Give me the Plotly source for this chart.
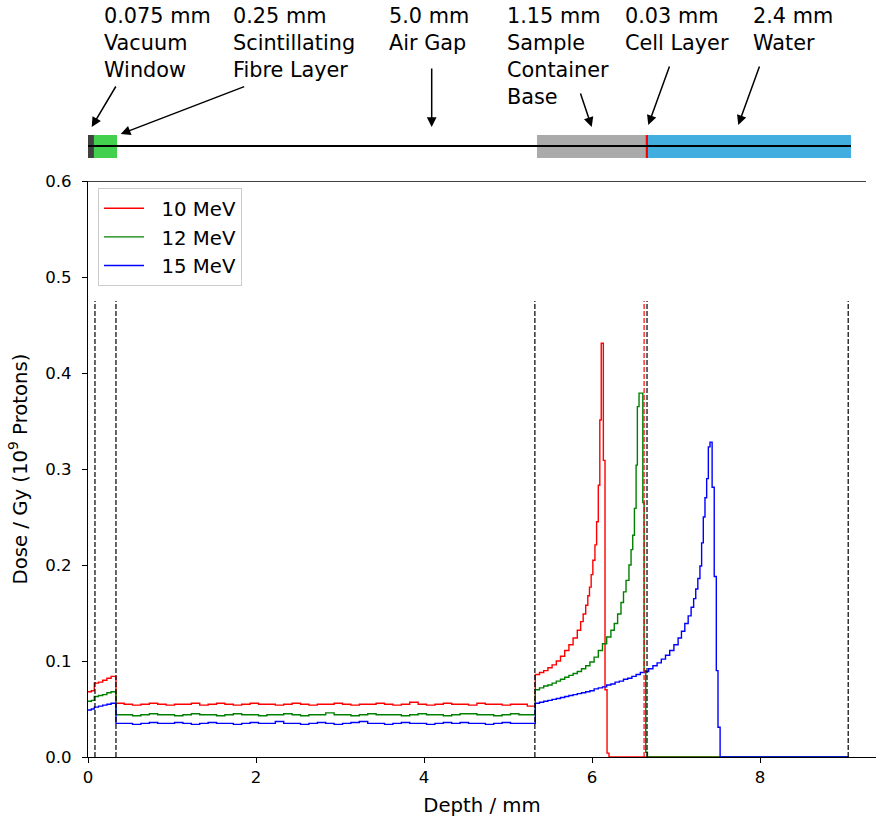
import plotly.graph_objects as go

# ---------------- data ----------------
DEPTH_ENTRY = [0.0, 0.04, 0.075, 0.125, 0.175, 0.225, 0.275]
RED_ENTRY = [0.068, 0.069, 0.077, 0.078, 0.080, 0.082, 0.084]
GREEN_ENTRY = [0.058, 0.059, 0.063, 0.064, 0.065, 0.067, 0.068]
BLUE_ENTRY = [0.049, 0.050, 0.052, 0.053, 0.054, 0.055, 0.056]

AIR_DEPTH = [0.333, 0.43, 0.53, 0.63, 0.73, 0.83, 0.93, 1.03, 1.13, 1.23,
             1.33, 1.43, 1.53, 1.63, 1.73, 1.83, 1.93, 2.03, 2.13, 2.23,
             2.33, 2.43, 2.53, 2.63, 2.73, 2.83, 2.93, 3.03, 3.13, 3.23,
             3.33, 3.43, 3.53, 3.63, 3.73, 3.83, 3.93, 4.03, 4.13, 4.23,
             4.33, 4.43, 4.53, 4.63, 4.73, 4.83, 4.93, 5.03, 5.13, 5.23]
RED_AIR = [0.056, 0.055, 0.054, 0.055, 0.056, 0.055, 0.054, 0.055, 0.055, 0.056,
           0.054, 0.055, 0.056, 0.055, 0.054, 0.055, 0.056, 0.055, 0.055, 0.054,
           0.055, 0.056, 0.055, 0.054, 0.055, 0.055, 0.056, 0.055, 0.054, 0.055,
           0.055, 0.056, 0.055, 0.054, 0.055, 0.057, 0.055, 0.054, 0.055, 0.056,
           0.055, 0.055, 0.054, 0.056, 0.055, 0.055, 0.054, 0.055, 0.055, 0.053]
GREEN_AIR = [0.044, 0.044, 0.043, 0.044, 0.045, 0.044, 0.044, 0.043, 0.044, 0.045,
             0.044, 0.044, 0.043, 0.044, 0.045, 0.044, 0.044, 0.043, 0.044, 0.044,
             0.045, 0.044, 0.043, 0.044, 0.044, 0.046, 0.044, 0.044, 0.043, 0.044,
             0.045, 0.044, 0.044, 0.044, 0.043, 0.044, 0.045, 0.044, 0.044, 0.043,
             0.044, 0.045, 0.045, 0.044, 0.044, 0.043, 0.044, 0.045, 0.044, 0.044]
BLUE_AIR = [0.035, 0.035, 0.034, 0.035, 0.036, 0.035, 0.035, 0.036, 0.035, 0.034,
            0.035, 0.036, 0.035, 0.035, 0.034, 0.035, 0.036, 0.035, 0.035, 0.037,
            0.035, 0.035, 0.034, 0.035, 0.036, 0.035, 0.034, 0.035, 0.036, 0.037,
            0.035, 0.035, 0.034, 0.035, 0.036, 0.035, 0.035, 0.034, 0.035, 0.036,
            0.035, 0.036, 0.035, 0.035, 0.034, 0.035, 0.036, 0.035, 0.035, 0.035]

RED_TAIL_DEPTH = [5.325, 5.375, 5.425, 5.475, 5.525, 5.575, 5.625, 5.675, 5.725, 5.775,
                  5.825, 5.865, 5.895, 5.925, 5.950, 5.970, 5.990, 6.010, 6.035, 6.055,
                  6.075, 6.093, 6.110, 6.135, 6.155, 6.179, 6.202, 9.05]
RED_TAIL = [0.086, 0.088, 0.090, 0.093, 0.096, 0.100, 0.105, 0.111, 0.117, 0.124,
            0.132, 0.141, 0.149, 0.158, 0.168, 0.177, 0.190, 0.205, 0.221, 0.245,
            0.283, 0.351, 0.431, 0.309, 0.070, 0.004, 0.0, 0.0]

GREEN_TAIL_DEPTH = [5.325, 5.375, 5.425, 5.475, 5.525, 5.575, 5.625, 5.675, 5.725, 5.775,
                    5.825, 5.875, 5.925, 5.975, 6.025, 6.075, 6.125, 6.175, 6.225, 6.265,
                    6.305, 6.345, 6.375, 6.405, 6.44, 6.465, 6.485, 6.505, 6.525, 6.54,
                    6.56, 6.605, 6.62, 6.64, 6.66, 9.05]
GREEN_TAIL = [0.070, 0.072, 0.074, 0.075, 0.077, 0.079, 0.081, 0.083, 0.085, 0.087,
              0.089, 0.092, 0.095, 0.099, 0.104, 0.111, 0.118, 0.125, 0.132, 0.139,
              0.149, 0.161, 0.172, 0.184, 0.200, 0.216, 0.231, 0.259, 0.304, 0.365,
              0.379, 0.265, 0.090, 0.005, 0.0, 0.0]

BLUE_TAIL_DEPTH = [5.325, 5.375, 5.425, 5.475, 5.525, 5.575, 5.625, 5.675, 5.725, 5.775,
                   5.825, 5.875, 5.925, 5.975, 6.025, 6.075, 6.125, 6.175, 6.225, 6.275,
                   6.325, 6.375, 6.425, 6.475, 6.525, 6.575, 6.625, 6.675, 6.725, 6.775,
                   6.825, 6.875, 6.925, 6.975, 7.025, 7.065, 7.105, 7.145, 7.18, 7.21,
                   7.235, 7.26, 7.285, 7.305, 7.325, 7.345, 7.365, 7.385, 7.405, 7.43,
                   7.455, 7.48, 7.50, 7.525, 9.05]
BLUE_TAIL = [0.056, 0.057, 0.058, 0.059, 0.060, 0.061, 0.062, 0.063, 0.064, 0.065,
             0.066, 0.067, 0.068, 0.069, 0.071, 0.072, 0.073, 0.075, 0.076, 0.078,
             0.079, 0.081, 0.082, 0.084, 0.086, 0.088, 0.089, 0.092, 0.095, 0.098,
             0.102, 0.106, 0.111, 0.117, 0.124, 0.131, 0.139, 0.147, 0.156, 0.165,
             0.175, 0.186, 0.199, 0.223, 0.250, 0.270, 0.290, 0.323, 0.328, 0.281,
             0.188, 0.090, 0.031, 0.0, 0.0]

SERIES_NAMES = ["10 MeV", "12 MeV", "15 MeV"]
SERIES_COLORS = ["#ff0000", "#008000", "#0000ff"]

BOUNDARIES = [0.083, 0.333, 5.32, 6.62, 6.655, 9.05]
BOUNDARY_COLORS = ["black", "black", "black", "red", "black", "black"]
BOUNDARY_TOP = 0.475

LAYER_START = [0.0, 0.071, 5.345, 6.64, 6.667]
LAYER_END = [0.071, 0.345, 6.655, 6.667, 9.083]
LAYER_COLORS = ["#404040", "#44d04f", "#aaaaaa", "#ff0000", "#42aee0"]
BEAM_END = 9.083

LABELS = ["0.075 mm<br>Vacuum<br>Window",
          "0.25 mm<br>Scintillating<br>Fibre Layer",
          "5.0 mm<br>Air Gap",
          "1.15 mm<br>Sample<br>Container<br>Base",
          "0.03 mm<br>Cell Layer",
          "2.4 mm<br>Water"]
LABEL_PX = [102, 231, 387, 505, 623, 751]
ARROW_TAIL_PX = [(116.7, 85), (245.7, 86), (431.7, 67), (580, 92), (670, 65), (760, 65)]
ARROW_HEAD_PX = [(91.7, 127), (120.7, 134), (431.7, 127), (591.7, 127), (648.3, 125), (738.3, 125)]

# ---------------- geometry helpers ----------------
W, H = 876, 820
ML, MB = 88, 63
PX_PER_MM = 84.0
X_MAX = (W - ML) / PX_PER_MM
PLOT_H = H - MB  # inner plotting height (t=0)


def px_to_x(px):
    return (px - ML) / PX_PER_MM


def py_to_paper(py):
    return (PLOT_H - py) / PLOT_H


FONT = "DejaVu Sans"
NBSP = "\u00a0"

fig = go.Figure()

series_x = [DEPTH_ENTRY + AIR_DEPTH + RED_TAIL_DEPTH,
            DEPTH_ENTRY + AIR_DEPTH + GREEN_TAIL_DEPTH,
            DEPTH_ENTRY + AIR_DEPTH + BLUE_TAIL_DEPTH]
series_y = [RED_ENTRY + RED_AIR + RED_TAIL,
            GREEN_ENTRY + GREEN_AIR + GREEN_TAIL,
            BLUE_ENTRY + BLUE_AIR + BLUE_TAIL]

for name, col, xs, ys in zip(SERIES_NAMES, SERIES_COLORS, series_x, series_y):
    fig.add_trace(go.Scatter(x=xs, y=ys, mode="lines", name=NBSP * 2 + name,
                             line=dict(color=col, width=1.4, shape="hv")))

shapes = []
for b, c in zip(BOUNDARIES, BOUNDARY_COLORS):
    shapes.append(dict(type="line", xref="x", yref="y", x0=b, x1=b, y0=0, y1=BOUNDARY_TOP,
                       line=dict(color=c, width=1.2, dash="5px,2px")))

# top spine of main axes
shapes.append(dict(type="line", xref="paper", yref="y", x0=0, x1=(866 - ML) / (W - ML),
                   y0=0.6, y1=0.6, line=dict(color="black", width=1.3)))

# schematic of layers
r_top = py_to_paper(135)
r_bot = py_to_paper(158)
for s, e, c in zip(LAYER_START, LAYER_END, LAYER_COLORS):
    shapes.append(dict(type="rect", xref="x", yref="paper", x0=s, x1=e, y0=r_bot, y1=r_top,
                       fillcolor=c, line=dict(width=0), layer="above"))
shapes.append(dict(type="line", xref="x", yref="paper", x0=0, x1=BEAM_END,
                   y0=py_to_paper(146), y1=py_to_paper(146),
                   line=dict(color="black", width=2)))

annotations = []
for txt, lx in zip(LABELS, LABEL_PX):
    annotations.append(dict(text=txt, xref="x", yref="paper", x=px_to_x(lx), y=py_to_paper(2),
                            xanchor="left", yanchor="top", align="left", showarrow=False,
                            font=dict(family=FONT, size=20.8, color="black")))
for (tx, ty), (hx, hy) in zip(ARROW_TAIL_PX, ARROW_HEAD_PX):
    annotations.append(dict(text="", xref="x", yref="paper", axref="pixel", ayref="pixel",
                            x=px_to_x(hx), y=py_to_paper(hy), ax=tx - hx, ay=ty - hy,
                            showarrow=True, arrowhead=2, arrowsize=1.3, arrowwidth=1.5,
                            arrowcolor="black", standoff=0))

fig.update_layout(
    width=W, height=H,
    margin=dict(l=ML, r=0, t=0, b=MB, autoexpand=False),
    paper_bgcolor="white", plot_bgcolor="white",
    font=dict(family=FONT, size=16.6, color="black"),
    shapes=shapes, annotations=annotations,
    showlegend=True,
    legend=dict(x=(98 - ML) / (W - ML), y=py_to_paper(188), xanchor="left", yanchor="top",
                bgcolor="white", bordercolor="#cccccc", borderwidth=1,
                font=dict(family=FONT, size=19.7), itemwidth=40),
    xaxis=dict(range=[0, X_MAX], showgrid=False, zeroline=False, showline=True,
               linecolor="black", linewidth=1.3, ticks="outside", ticklen=5, tickwidth=1.3,
               tickcolor="black", tickvals=[0, 2, 4, 6, 8], ticktext=["0", "2", "4", "6", "8"],
               tickfont=dict(size=16.6), automargin=False,
               title=dict(text="Depth / mm", font=dict(size=19.7), standoff=12)),
    yaxis=dict(range=[0, 0.6], domain=[0, py_to_paper(181)], showgrid=False, zeroline=False,
               showline=True, linecolor="black", linewidth=1.3, ticks="outside", ticklen=5,
               tickwidth=1.3, tickcolor="black", tickvals=[0, 0.1, 0.2, 0.3, 0.4, 0.5, 0.6],
               tickformat=".1f", tickfont=dict(size=16.6), ticklabelstandoff=7, automargin=False,
               title=dict(text="Dose / Gy (10<sup>9</sup> Protons)", font=dict(size=19.7), standoff=12)),
)

fig.write_html("out.html")
